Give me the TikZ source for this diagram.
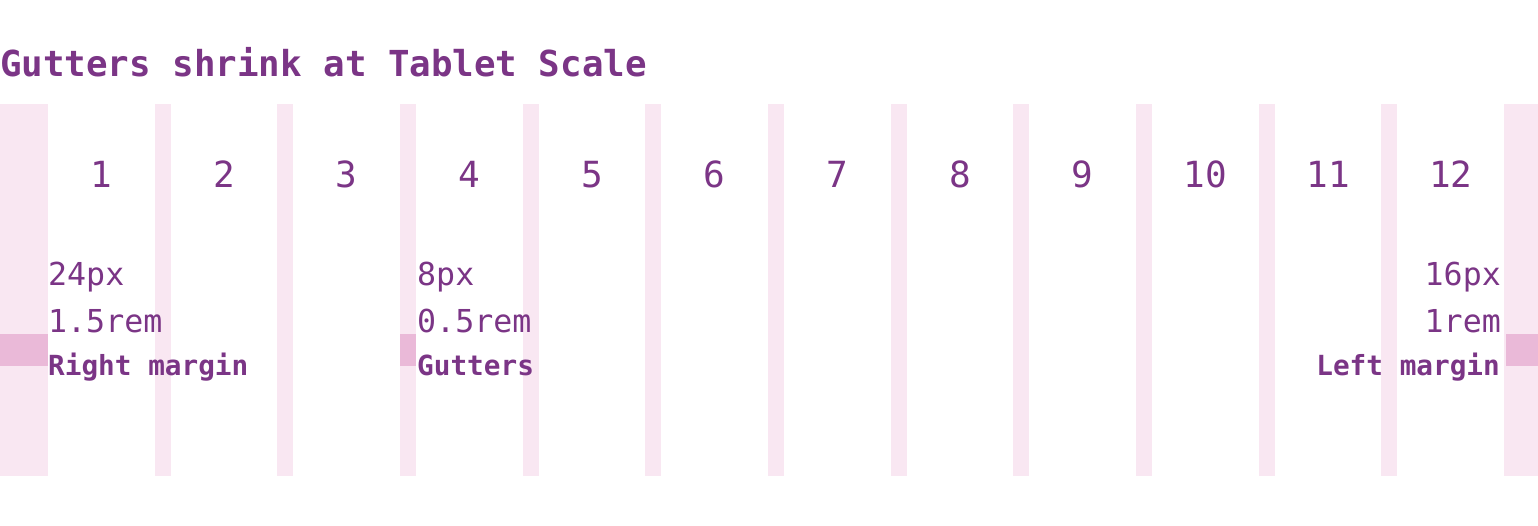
\documentclass[tikz,border=0pt]{standalone}
\usepackage{fontspec}
\setmonofont{DejaVu Sans Mono}
\definecolor{gridpink}{HTML}{F9E7F2}
\definecolor{markpink}{HTML}{EAB9D8}
\definecolor{plexpurple}{HTML}{7B3586}
\tikzset{
  colnum/.style={text=plexpurple, inner sep=0pt, anchor=base, font=\ttfamily\fontsize{36}{36}\selectfont},
  sizeval/.style={text=plexpurple, inner sep=0pt, font=\ttfamily\fontsize{31.6}{31.6}\selectfont},
  sizename/.style={text=plexpurple, inner sep=0pt, font=\ttfamily\bfseries\fontsize{27.7}{27.7}\selectfont}
}

\begin{document}
\begin{tikzpicture}[x=1pt, y=-1pt]
    \fill[white] (0,0) rectangle (1538,526);
    \useasboundingbox (0,0) rectangle (1538,526);
    % margins and gutters
    \fill[gridpink] (0,104) rectangle (48,476);
    \fill[gridpink] (1504,104) rectangle (1538,476);
    \foreach \i in {1,...,11}
        \fill[gridpink] ({48+\i*122.667-16},104) rectangle +(16,372);
    \fill[markpink] (0,334) rectangle (48,366);
    \fill[markpink] (400,334) rectangle (416,366);
    \fill[markpink] (1506,334) rectangle (1538,366);
    % title
    \node[anchor=base west, inner sep=0pt, text=plexpurple, font=\ttfamily\bfseries\fontsize{35.8}{35.8}\selectfont] (title) at (0,77) {Gutters shrink at Tablet Scale};
    % column numbers
    \foreach \i in {1,...,12}
        \node[colnum] (n\i) at ({48+(\i-1)*122.667+53.33},188) {\i};
    % right margin
    \node[sizeval, anchor=base west] (rpx) at (48,286) {24px};
    \node[sizeval, anchor=base west] (rrem) at (48,332) {1.5rem};
    \node[sizename, anchor=base west] (rname) at (48,375) {Right margin};
    % gutters
    \node[sizeval, anchor=base west] (gpx) at (417,286) {8px};
    \node[sizeval, anchor=base west] (grem) at (417,332) {0.5rem};
    \node[sizename, anchor=base west] (gname) at (417,375) {Gutters};
    % left margin
    \node[sizeval, anchor=base east] (lpx) at (1501,286) {16px};
    \node[sizeval, anchor=base east] (lrem) at (1501,332) {1rem};
    \node[sizename, anchor=base east] (lname) at (1500,375) {Left margin};
\end{tikzpicture}
\end{document}
